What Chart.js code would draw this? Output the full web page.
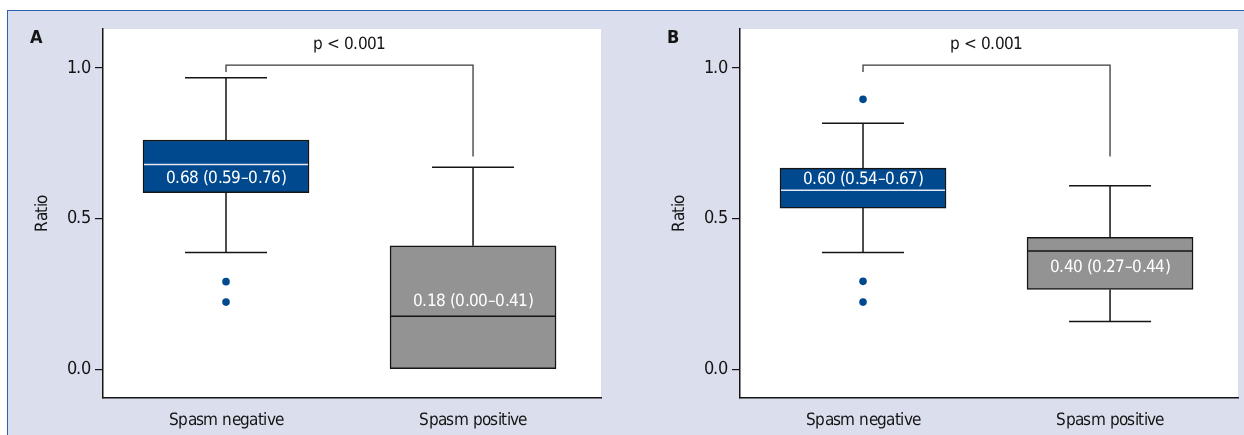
<!DOCTYPE html>
<html><head><meta charset="utf-8">
<script src="https://cdn.jsdelivr.net/npm/chart.js@4.4.1/dist/chart.umd.min.js"></script>
<style>
@font-face{font-family:'NarrowX';font-weight:400;src:local('Liberation Sans Narrow'),local('LiberationSansNarrow-Regular'),local('LiberationSansNarrow'),local('Noto Sans Condensed'),local('NotoSans-Condensed'),local('DejaVu Sans Condensed'),local('DejaVuSansCondensed'),local('Arial Narrow')}
@font-face{font-family:'NarrowX';font-weight:700;src:local('Liberation Sans Narrow Bold'),local('LiberationSansNarrow-Bold'),local('Noto Sans Condensed Bold'),local('NotoSans-CondensedBold'),local('DejaVu Sans Condensed Bold'),local('DejaVuSansCondensed-Bold'),local('Arial Narrow Bold')}
html,body{margin:0;padding:0;background:#fff;overflow:hidden;width:1244px;height:435px}
#frame{position:absolute;left:7px;top:10px;width:1237px;height:425px;background:#dbdeec;border-top:1.5px solid #2a62ae;border-left:1.5px solid #2a62ae;box-sizing:border-box}
canvas{position:absolute}
#cA{left:8px;top:11px}
#cB{left:645px;top:11px}
</style></head><body>
<div id="frame"></div>
<canvas id="cA" width="612" height="424"></canvas>
<canvas id="cB" width="599" height="424"></canvas>
<script>
// ---- data ----
const categories = ['Spasm negative', 'Spasm positive'];
const yTickValues = [0, 0.5, 1.0];
const pText = 'p < 0.001';
const axisTitle = 'Ratio';

// Panel A
const aLow = [0.388, 0.0];
const aQ1 = [0.586, 0.0];
const aMedian = [0.680, 0.176];
const aQ3 = [0.761, 0.410];
const aHigh = [0.968, 0.671];
const aOutliers = [[0.291, 0.223], []];
const aLabels = ['0.68 (0.59\u20130.76)', '0.18 (0.00\u20130.41)'];

// Panel B
const bLow = [0.388, 0.159];
const bQ1 = [0.535, 0.265];
const bMedian = [0.594, 0.393];
const bQ3 = [0.668, 0.438];
const bHigh = [0.817, 0.609];
const bOutliers = [[0.896, 0.292, 0.223], []];
const bLabels = ['0.60 (0.54\u20130.67)', '0.40 (0.27\u20130.44)'];

// significance bracket levels (value units)
const bracketLevel = 1.01, bracketLeftEnd = 0.987, bracketRightEnd = 0.706;

// ---- style ----
let FONT = "NarrowX, 'Liberation Sans Narrow', Roboto, sans-serif";
let FS = 17;
let SPACING = '-0.6px';
const BLUE = '#00498f', GREY = '#939393', INK = '#141414';
const boxColors = [BLUE, GREY];
const medianColors = ['#e4e8f2', '#141414'];

function makePlugin(s) {
  return {
    id: 'boxes',
    beforeDraw(chart) {
      const { ctx, chartArea: a } = chart;
      if ('letterSpacing' in ctx) ctx.letterSpacing = SPACING;
      ctx.save(); ctx.fillStyle = '#fff';
      ctx.fillRect(a.left, a.top, a.right - a.left, a.bottom - a.top);
      ctx.restore();
    },
    beforeDatasetsDraw(chart) {
      const { ctx } = chart, xs = chart.scales.x, ys = chart.scales.y;
      ctx.save(); ctx.strokeStyle = INK; ctx.lineWidth = 1.5;
      categories.forEach((c, i) => {
        const x = xs.getPixelForValue(i), cap = 41;
        const seg = (from, to) => {
          if (to === from) return;
          ctx.beginPath();
          ctx.moveTo(x, ys.getPixelForValue(from)); ctx.lineTo(x, ys.getPixelForValue(to));
          ctx.moveTo(x - cap, ys.getPixelForValue(to)); ctx.lineTo(x + cap, ys.getPixelForValue(to));
          ctx.stroke();
        };
        seg(s.q3[i], s.high[i]);
        seg(s.q1[i], s.low[i]);
      });
      ctx.restore();
    },
    afterDatasetsDraw(chart) {
      const { ctx, chartArea: a } = chart, xs = chart.scales.x, ys = chart.scales.y;
      ctx.save();
      categories.forEach((c, i) => {
        const x = xs.getPixelForValue(i), hw = 82;
        const ym = ys.getPixelForValue(s.med[i]);
        ctx.strokeStyle = medianColors[i]; ctx.lineWidth = 1.5;
        ctx.beginPath(); ctx.moveTo(x - hw, ym); ctx.lineTo(x + hw, ym); ctx.stroke();
        const up = (ym - ys.getPixelForValue(s.q3[i])) / 2;
        const dn = (ys.getPixelForValue(s.q1[i]) - ym) / 2;
        const ty = dn >= up ? ym + Math.min(dn, 17) : ym - Math.min(up, 15);
        ctx.fillStyle = '#ffffff'; ctx.font = FS + 'px ' + FONT;
        ctx.textAlign = 'center'; ctx.textBaseline = 'middle';
        ctx.fillText(s.labels[i], x, ty);
      });
      // bracket
      const xL = xs.getPixelForValue(0), xR = xs.getPixelForValue(1);
      const yT = ys.getPixelForValue(bracketLevel);
      ctx.strokeStyle = '#3a3a3a'; ctx.lineWidth = 1.3;
      ctx.beginPath();
      ctx.moveTo(xL, ys.getPixelForValue(bracketLeftEnd)); ctx.lineTo(xL, yT);
      ctx.lineTo(xR, yT); ctx.lineTo(xR, ys.getPixelForValue(bracketRightEnd));
      ctx.stroke();
      ctx.fillStyle = INK; ctx.font = FS + 'px ' + FONT;
      ctx.textAlign = 'center'; ctx.textBaseline = 'middle';
      ctx.fillText(pText, (xL + xR) / 2, yT - 20);
      // panel letter
      ctx.font = 'bold ' + (FS + 1) + 'px ' + FONT; ctx.textAlign = 'left';
      ctx.fillText(s.letter, a.left - 73, a.top + 9);
      ctx.restore();
    }
  };
}

function build(id, s, padRight) {
  const tickFont = { family: FONT, size: FS };
  return new Chart(document.getElementById(id), {
    type: 'bar',
    data: {
      datasets: [
        {
          data: categories.map((c, i) => ({ x: i, y: [s.q1[i], s.q3[i]] })),
          backgroundColor: boxColors, borderColor: INK, borderWidth: 1.5,
          borderSkipped: false, barThickness: 166, order: 2
        },
        {
          type: 'scatter',
          data: s.out.flatMap((arr, i) => arr.map(v => ({ x: i, y: v }))),
          backgroundColor: BLUE, borderWidth: 0, pointRadius: 3.8, order: 1
        }
      ]
    },
    options: {
      responsive: false, animation: false, devicePixelRatio: 1,
      layout: { padding: { left: 0, top: 18, right: padRight, bottom: 0 } },
      plugins: { legend: { display: false }, tooltip: { enabled: false } },
      scales: {
        x: {
          type: 'linear', min: -0.498, max: 1.518, offset: false,
          afterBuildTicks: sc => { sc.ticks = categories.map((c, i) => ({ value: i })); },
          ticks: { callback: v => categories[v], font: tickFont, color: INK, padding: 12, autoSkip: false, maxRotation: 0 },
          grid: { drawOnChartArea: false, drawTicks: false, offset: false },
          border: { display: true, color: INK, width: 1.5 },
          afterFit: sc => { sc.height = 37; }
        },
        y: {
          min: -0.0953, max: 1.1296,
          afterBuildTicks: sc => { sc.ticks = yTickValues.map(v => ({ value: v })); },
          ticks: { callback: v => v.toFixed(1), font: { family: FONT, size: FS + 1 }, color: INK, padding: 5 },
          grid: { drawOnChartArea: false, drawTicks: true, tickLength: 8, color: INK, lineWidth: 1.2 },
          border: { display: true, color: INK, width: 1.5 },
          title: { display: true, text: axisTitle, font: { family: FONT, size: FS }, color: INK, padding: { top: 24, bottom: 0 } },
          afterFit: sc => { sc.width = 95; }
        }
      }
    },
    plugins: [makePlugin(s)]
  });
}

let started = false;
function start() {
  if (started) return; started = true;
  const c = document.createElement('canvas').getContext('2d');
  c.font = '18px NarrowX, monospace'; const w1 = c.measureText('Spasm negative').width;
  c.font = '18px monospace'; const w2 = c.measureText('Spasm negative').width;
  if (Math.abs(w1 - w2) < 0.5) { FONT = "Roboto, 'Liberation Sans', sans-serif"; FS = 17; SPACING = '-0.8px'; }
  build('cA', { low: aLow, q1: aQ1, med: aMedian, q3: aQ3, high: aHigh, out: aOutliers, labels: aLabels, letter: 'A' }, 19);
  build('cB', { low: bLow, q1: bQ1, med: bMedian, q3: bQ3, high: bHigh, out: bOutliers, labels: bLabels, letter: 'B' }, 6);
}
Promise.allSettled([document.fonts.load('18px NarrowX'), document.fonts.load('bold 18px NarrowX')]).then(start, start);
setTimeout(start, 1500);
</script>
</body></html>
